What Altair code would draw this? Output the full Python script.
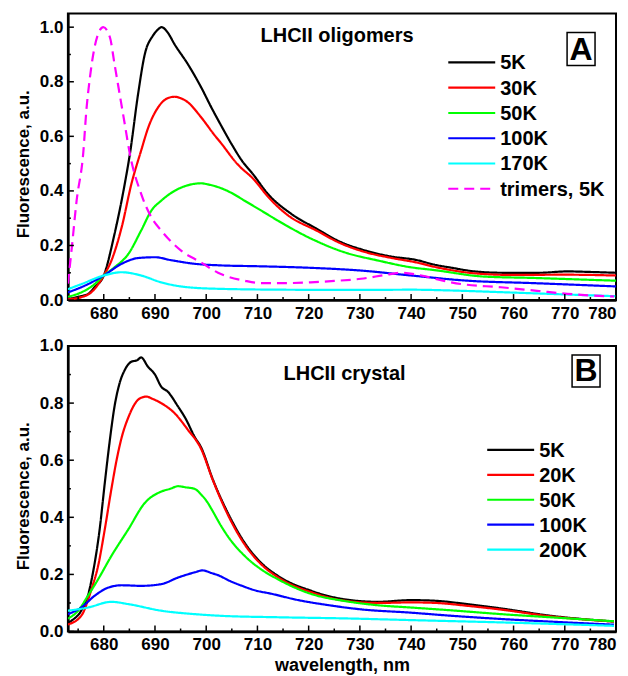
import altair as alt
import pandas as pd

# ---------------- Panel A: LHCII oligomers ----------------
A_names = ["5K", "30K", "50K", "100K", "170K", "trimers, 5K"]
A_colors = ["#000000", "#ff0000", "#00ff00", "#0000ff", "#00ffff", "#ff00ff"]

A_5K_x = [673, 675, 677, 678.2, 680, 682.1, 684.1, 685.1, 686.7, 688, 689.6, 690.5, 691.3, 692.5, 693.8, 696.4, 699, 701, 702.9, 705, 707, 709.1, 712, 716.6, 721.5, 726, 731.2, 736, 741, 744.5, 748, 753, 758, 765, 770.5, 775, 780]
A_5K_y = [0.004, 0.012, 0.023, 0.047, 0.09, 0.242, 0.426, 0.535, 0.755, 0.90, 0.969, 0.99, 1.0, 0.98, 0.938, 0.865, 0.78, 0.706, 0.64, 0.57, 0.51, 0.462, 0.39, 0.316, 0.262, 0.215, 0.181, 0.16, 0.147, 0.13, 0.118, 0.104, 0.1, 0.1, 0.105, 0.103, 0.1]

A_30K_x = [673, 675.5, 677.6, 680, 681.5, 683.5, 685.4, 687.3, 688.7, 690.6, 692.5, 693.8, 695, 696.4, 699, 701.6, 702.9, 706, 709.4, 712, 716, 721.5, 726, 731.2, 736, 741, 745, 753, 760, 770, 780]
A_30K_y = [0.003, 0.01, 0.029, 0.09, 0.145, 0.267, 0.426, 0.548, 0.633, 0.706, 0.74, 0.745, 0.74, 0.725, 0.67, 0.605, 0.575, 0.5, 0.44, 0.38, 0.31, 0.255, 0.21, 0.175, 0.155, 0.138, 0.12, 0.097, 0.092, 0.093, 0.09]

A_50K_x = [673, 675.7, 678, 680, 682.1, 684.8, 687.3, 689.3, 691.2, 693.8, 695.5, 697.7, 699, 700.3, 702.9, 705, 707.5, 711, 714, 720.6, 727, 733.5, 740, 744.5, 754.3, 764, 772, 780]
A_50K_y = [0.012, 0.029, 0.055, 0.09, 0.12, 0.169, 0.255, 0.328, 0.364, 0.40, 0.415, 0.426, 0.428, 0.424, 0.41, 0.392, 0.364, 0.325, 0.291, 0.224, 0.175, 0.145, 0.12, 0.11, 0.086, 0.081, 0.076, 0.071]

A_100K_x = [673, 677, 680, 683.5, 686.7, 690, 693.2, 697.7, 702.9, 710, 720.6, 730.3, 740, 751, 764, 780]
A_100K_y = [0.028, 0.059, 0.09, 0.133, 0.154, 0.157, 0.146, 0.133, 0.127, 0.124, 0.118, 0.108, 0.09, 0.071, 0.062, 0.05]

A_170K_x = [673, 675.7, 680, 683.5, 687.3, 691.2, 696.4, 702.9, 715, 730, 740, 748, 757.5, 768, 780]
A_170K_y = [0.04, 0.059, 0.09, 0.102, 0.09, 0.065, 0.047, 0.041, 0.038, 0.037, 0.038, 0.035, 0.029, 0.022, 0.014]

A_tri_x = [673, 673.7, 674.7, 676, 676.6, 677.3, 678.2, 679, 679.9, 681.2, 682.1, 683.1, 684.1, 685.1, 687.3, 689.3, 691.2, 695.1, 699, 702.3, 707.5, 710.7, 715, 720.4, 725, 730.2, 735, 738, 742, 746, 749.7, 757.5, 765, 770.5, 775, 779.6]
A_tri_y = [0.06, 0.181, 0.364, 0.54, 0.694, 0.816, 0.926, 0.98, 1.0, 0.963, 0.865, 0.755, 0.645, 0.535, 0.389, 0.303, 0.255, 0.181, 0.138, 0.1, 0.071, 0.062, 0.062, 0.065, 0.07, 0.078, 0.092, 0.1, 0.09, 0.072, 0.059, 0.047, 0.033, 0.023, 0.017, 0.013]

# ---------------- Panel B: LHCII crystal ----------------
B_names = ["5K", "20K", "50K", "100K", "200K"]
B_colors = ["#000000", "#ff0000", "#00ff00", "#0000ff", "#00ffff"]

B_5K_x = [673, 673.7, 675.6, 676.9, 677.9, 679.2, 680.2, 681.2, 682.1, 683.1, 684.1, 685.4, 686.5, 687.3, 688.6, 690, 691.2, 692.5, 694.5, 696, 697.7, 699, 701.3, 704.2, 707.5, 710.7, 714, 720.6, 727, 733.5, 740, 744.5, 751, 757.5, 767.3, 779.6]
B_5K_y = [0.03, 0.038, 0.073, 0.125, 0.207, 0.358, 0.52, 0.672, 0.788, 0.87, 0.916, 0.945, 0.95, 0.96, 0.928, 0.9, 0.858, 0.84, 0.788, 0.745, 0.683, 0.645, 0.532, 0.416, 0.311, 0.241, 0.195, 0.142, 0.113, 0.104, 0.11, 0.108, 0.096, 0.081, 0.055, 0.035]

B_20K_x = [673, 675.6, 677.6, 678.9, 680.2, 681.5, 682.5, 683.5, 684.8, 686.7, 687.5, 688.3, 689.5, 691.2, 693.8, 696.4, 699, 701.3, 704.2, 707.5, 710.7, 714, 720.6, 727, 733.5, 740, 745, 751, 757.5, 767.3, 779.6]
B_20K_y = [0.025, 0.055, 0.148, 0.23, 0.358, 0.5, 0.6, 0.68, 0.75, 0.812, 0.82, 0.823, 0.815, 0.8, 0.765, 0.707, 0.64, 0.53, 0.41, 0.305, 0.236, 0.19, 0.137, 0.108, 0.1, 0.102, 0.1, 0.09, 0.077, 0.053, 0.035]

B_50K_x = [673, 675, 676.9, 678.9, 681.5, 684.8, 688, 691.2, 693, 694.5, 696, 697.7, 699, 700.3, 701, 702.9, 704.2, 707.5, 710.7, 714, 720.6, 727, 733.5, 740, 748, 757.5, 768, 779.6]
B_50K_y = [0.045, 0.073, 0.125, 0.183, 0.265, 0.358, 0.45, 0.49, 0.5, 0.509, 0.505, 0.5, 0.48, 0.451, 0.43, 0.37, 0.334, 0.265, 0.218, 0.183, 0.131, 0.107, 0.092, 0.084, 0.074, 0.061, 0.049, 0.036]

B_100K_x = [673, 675.6, 678.2, 680.9, 683.5, 687.3, 691.2, 694.5, 697.7, 699.3, 701, 702.5, 704.5, 707, 710, 712, 718, 724, 730, 740, 748, 757.5, 768, 779.6]
B_100K_y = [0.061, 0.084, 0.125, 0.154, 0.162, 0.16, 0.166, 0.189, 0.207, 0.214, 0.205, 0.196, 0.178, 0.16, 0.142, 0.135, 0.11, 0.092, 0.078, 0.066, 0.055, 0.044, 0.034, 0.024]

B_200K_x = [673, 676.9, 681.5, 684.8, 691.2, 697.7, 702.9, 714, 727, 740, 757.5, 779.6]
B_200K_y = [0.073, 0.084, 0.104, 0.096, 0.073, 0.061, 0.055, 0.05, 0.046, 0.04, 0.032, 0.02]

X_MAJOR = [680, 690, 700, 710, 720, 730, 740, 750, 760, 770, 780]
X_MINOR = [675, 685, 695, 705, 715, 725, 735, 745, 755, 765, 775]
Y_MAJOR = [0.0, 0.2, 0.4, 0.6, 0.8, 1.0]
Y_MINOR = [0.1, 0.3, 0.5, 0.7, 0.9]

FONT = "Liberation Sans"
W = 549


def long_df(series):
    rows = []
    for name, xs, ys in series:
        for i, (x, y) in enumerate(zip(xs, ys)):
            rows.append({"series": name, "wl": x, "v": y, "i": i})
    return pd.DataFrame(rows)


def panel(df, names, colors, dashes, ydomain, H, label, label_xy, letter, box, letter_xy,
          leg_x0, leg_x1, leg_y0, leg_dy, xtitle):
    xs = alt.Scale(domain=[673, 780], nice=False, zero=False)
    ys = alt.Scale(domain=ydomain, nice=False, zero=False)
    xaxis = alt.Axis(values=X_MAJOR, ticks=False, grid=False, labelPadding=5,
                     domainColor="black", domainWidth=2.5, format="d", titlePadding=4,
                     title=xtitle if xtitle else "")
    yaxis = alt.Axis(values=Y_MAJOR, ticks=False, grid=False, labelPadding=5, format=".1f",
                     domainColor="black", domainWidth=2.5, title="Fluorescence, a.u.",
                     titlePadding=7, titleY=H / 2 + 7)
    X = alt.X("wl:Q", scale=xs, axis=xaxis)
    Y = alt.Y("v:Q", scale=ys, axis=yaxis)
    lines = alt.Chart(df).mark_line(strokeWidth=2.2, clip=True, interpolate="monotone").encode(
        x=X, y=Y,
        color=alt.Color("series:N", scale=alt.Scale(domain=names, range=colors), legend=None),
        strokeDash=alt.StrokeDash("series:N", scale=alt.Scale(domain=names, range=dashes), legend=None),
        order="i:Q",
    )
    xt_major = alt.Chart(pd.DataFrame({"wl": X_MAJOR})).mark_rule(color="black", strokeWidth=1.5).encode(
        x=X, y=alt.value(H), y2=alt.value(H - 6))
    xt_minor = alt.Chart(pd.DataFrame({"wl": X_MINOR})).mark_rule(color="black", strokeWidth=1.5).encode(
        x=X, y=alt.value(H), y2=alt.value(H - 3))
    yt_major = alt.Chart(pd.DataFrame({"v": Y_MAJOR})).mark_rule(color="black", strokeWidth=1.5).encode(
        y=Y, x=alt.value(0), x2=alt.value(6))
    yt_minor = alt.Chart(pd.DataFrame({"v": Y_MINOR})).mark_rule(color="black", strokeWidth=1.5).encode(
        y=Y, x=alt.value(0), x2=alt.value(3))

    one = pd.DataFrame({"t": [label]})
    title_txt = alt.Chart(one).mark_text(font=FONT, fontWeight="bold", fontSize=20, align="left",
                                         baseline="alphabetic", color="black").encode(
        text="t:N", x=alt.value(label_xy[0]), y=alt.value(label_xy[1]))
    box_mark = alt.Chart(pd.DataFrame({"t": [letter]})).mark_rect(fill="white", stroke="black", strokeWidth=1.5).encode(
        x=alt.value(box[0]), x2=alt.value(box[1]), y=alt.value(box[2]), y2=alt.value(box[3]))
    letter_txt = alt.Chart(pd.DataFrame({"t": [letter]})).mark_text(font=FONT, fontWeight="bold", fontSize=32,
                                                                  align="center", baseline="alphabetic",
                                                                  color="black").encode(
        text="t:N", x=alt.value(letter_xy[0]), y=alt.value(letter_xy[1]))

    layers = [lines, xt_major, xt_minor, yt_major, yt_minor, title_txt, box_mark, letter_txt]
    for k, (n, c, d) in enumerate(zip(names, colors, dashes)):
        yy = leg_y0 + k * leg_dy
        src = pd.DataFrame({"t": [n]})
        layers.append(alt.Chart(src).mark_rule(strokeWidth=2.2, color=c, strokeDash=d).encode(
            x=alt.value(leg_x0), x2=alt.value(leg_x1), y=alt.value(yy)))
        layers.append(alt.Chart(src).mark_text(font=FONT, fontWeight="bold", fontSize=20, align="left",
                                              baseline="middle", color="black").encode(
            text="t:N", x=alt.value(leg_x1 + 5), y=alt.value(yy + 1)))
    return alt.layer(*layers).properties(width=W, height=H)


dfA = long_df([("5K", A_5K_x, A_5K_y), ("30K", A_30K_x, A_30K_y), ("50K", A_50K_x, A_50K_y),
               ("100K", A_100K_x, A_100K_y), ("170K", A_170K_x, A_170K_y), ("trimers, 5K", A_tri_x, A_tri_y)])
dfB = long_df([("5K", B_5K_x, B_5K_y), ("20K", B_20K_x, B_20K_y), ("50K", B_50K_x, B_50K_y),
               ("100K", B_100K_x, B_100K_y), ("200K", B_200K_x, B_200K_y)])

solid = [1, 0]
chartA = panel(dfA, A_names, A_colors, [solid, solid, solid, solid, solid, [10, 6]], [0, 1.05], 287,
               "LHCII oligomers", (193, 29), "A", (500, 528, 19, 52), (514, 47),
               381, 428, 49, 25.3, None)
chartB = panel(dfB, B_names, B_colors, [solid] * 5, [0, 1.0], 286,
               "LHCII crystal", (216, 34), "B", (505, 533, 9, 41), (519, 35),
               420, 467, 104, 25, "wavelength, nm")

chart = alt.vconcat(chartA, chartB, spacing=14).resolve_scale(
    color="independent", strokeDash="independent"
).properties(padding={"left": 5, "top": 4, "right": 2, "bottom": 0}).configure_view(
    stroke="black", strokeWidth=2
).configure_axis(
    labelFont=FONT, labelFontWeight="bold", labelFontSize=17, labelColor="black",
    titleFont=FONT, titleFontWeight="bold", titleFontSize=17, titleColor="black"
).configure_axisX(titleFontSize=18)

chart.save("out.html", embed_options={"renderer": "svg", "actions": False})
